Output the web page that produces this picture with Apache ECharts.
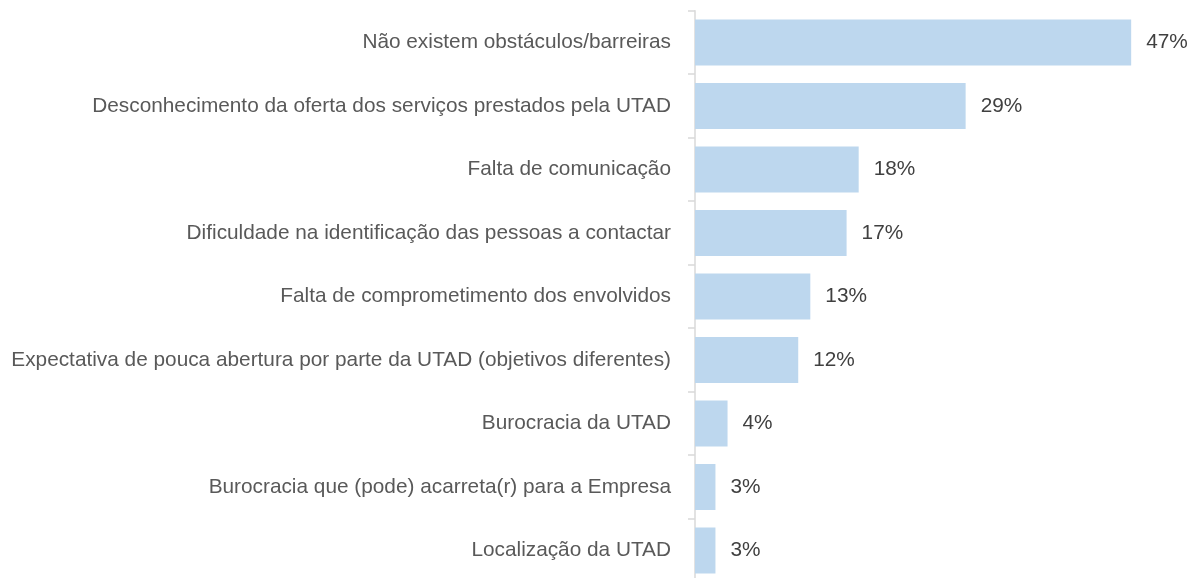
<!DOCTYPE html>
<html>
<head>
<meta charset="utf-8">
<script src="https://cdn.jsdelivr.net/npm/echarts@6/dist/echarts.min.js"></script>
<style>
html,body{margin:0;padding:0;background:#fff;overflow:hidden;width:1190px;height:578px;}
#chart{width:1190px;height:590px;}
</style>
</head>
<body>
<div id="chart"></div>
<script>
const categories = [
  "Não existem obstáculos/barreiras",
  "Desconhecimento da oferta dos serviços prestados pela UTAD",
  "Falta de comunicação",
  "Dificuldade na identificação das pessoas a contactar",
  "Falta de comprometimento dos envolvidos",
  "Expectativa de pouca abertura por parte da UTAD (objetivos diferentes)",
  "Burocracia da UTAD",
  "Burocracia que (pode) acarreta(r) para a Empresa",
  "Localização da UTAD"
];
const values = [46.9, 29.1, 17.6, 16.3, 12.4, 11.1, 3.5, 2.2, 2.2];
const valueLabels = ["47%", "29%", "18%", "17%", "13%", "12%", "4%", "3%", "3%"];

const chart = echarts.init(document.getElementById('chart'));
chart.setOption({
  animation: false,
  grid: { left: 695, width: 465, top: 10.7, height: 571.5, containLabel: false },
  xAxis: {
    type: 'value', min: 0, max: 50, show: false
  },
  yAxis: {
    type: 'category', data: categories, inverse: true, offset: 2,
    axisLine: { show: true, lineStyle: { color: '#d9d9d9', width: 1.5 } },
    axisTick: { show: true, length: 7, lineStyle: { color: '#d9d9d9', width: 1.5 } },
    axisLabel: { margin: 22, color: '#595959', fontSize: 20.8, fontFamily: 'Liberation Sans, Arial, sans-serif' },
    splitLine: { show: false }
  },
  series: [{
    type: 'bar', data: values, barWidth: 46,
    itemStyle: { color: '#bdd7ee' },
    label: {
      show: true, position: 'right', distance: 15,
      color: '#404040', fontSize: 20.8, fontFamily: 'Liberation Sans, Arial, sans-serif',
      formatter: p => valueLabels[p.dataIndex]
    }
  }]
});
</script>
</body>
</html>
